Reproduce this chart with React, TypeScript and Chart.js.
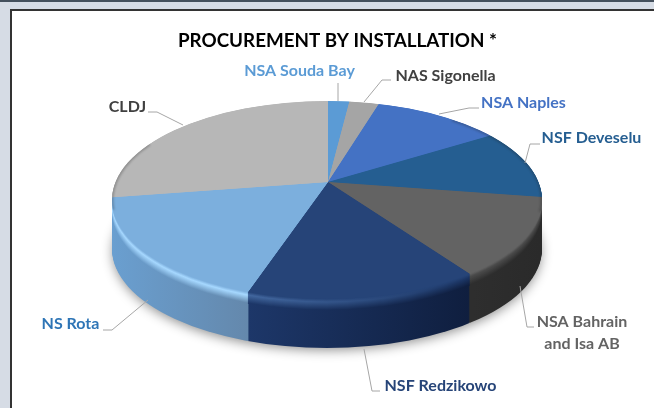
import { useEffect, useRef } from "react";
import { Chart, registerables } from "chart.js";

Chart.register(...registerables);

const categories = ["NSA Souda Bay", "NAS Sigonella", "NSA Naples", "NSF Deveselu", "NSA Bahrain and Isa AB", "NSF Redzikowo", "NS Rota", "CLDJ"];
const shares = [2.1, 2.9, 11.7, 10.5, 12.3, 16.0, 17.2, 27.2];
const topColors = ["#5B9BD5", "#A5A5A5", "#4472C4", "#255E91", "#636363", "#264478", "#7CAFDD", "#B7B7B7"];
const sideLeft = ["#4A7FAF", "#7E7E7E", "#34589A", "#1B4469", "#2E2E2E", "#1D3769", "#6A9FD0", "#8A8A8A"];
const sideRight = ["#4A7FAF", "#7E7E7E", "#34589A", "#1B4469", "#2A2A2A", "#0F1E3E", "#6488AC", "#8A8A8A"];
const bevelLeft = ["#7FBDF2", "#C0C0C0", "#5F8FE0", "#2F74AE", "#4A4A4A", "#42679F", "#A6D8FF", "#D0D0D0"];
const bevelRight = ["#7FBDF2", "#C0C0C0", "#5F8FE0", "#2F74AE", "#4A4A4A", "#1B3564", "#A6D8FF", "#D0D0D0"];
const sideSpanX: number[][] = [[328, 349], [349, 379], [379, 485], [485, 540], [473, 540], [248, 473], [112, 248], [112, 328]];
const titleText = "PROCUREMENT BY INSTALLATION *";

const labelLines = [
  ["NSA Souda Bay"],
  ["NAS Sigonella"],
  ["NSA Naples"],
  ["NSF Deveselu"],
  ["NSA Bahrain", "and Isa AB"],
  ["NSF Redzikowo"],
  ["NS Rota"],
  ["CLDJ"],
];
const labelColors = ["#5B9BD5", "#404040", "#4472C4", "#255E91", "#636363", "#264478", "#2E75B6", "#404040"];
const labelAnchors: number[][] = [[299.5, 71], [445.5, 76], [523.5, 103], [591.5, 138], [582, 322], [440.5, 386], [70.5, 324], [127.5, 107]];
const leaders: number[][][] = [
  [[338, 83], [338, 101]],
  [[391, 80], [382, 80], [364, 102]],
  [[479, 108], [469, 108], [439, 114]],
  [[540, 144], [530, 144], [525, 163]],
  [[534, 327], [527, 327], [520, 286]],
  [[380, 391], [372, 391], [364, 349]],
  [[103, 330], [112, 330], [148, 300]],
  [[148, 112], [157, 112], [183, 125]],
];

const APEX = { x: 328, y: 182 };
const RIM = { x: 327, y: 200, rx: 215, ry: 99 };
const DEPTH = 49;
const SQUASH = 0.5;
const REACH = 300;

function hex(c: string) {
  return [1, 3, 5].map((i) => parseInt(c.slice(i, i + 2), 16));
}
function mix(a: string, b: string, t: number) {
  const p = hex(a), q = hex(b);
  return "#" + p.map((v, i) => Math.round(v + (q[i] - v) * t).toString(16).padStart(2, "0")).join("");
}
function layerColor(i: number, dy: number, side: string, bevel: string) {
  if (dy < 3) return mix(topColors[i], bevel, dy / 3);
  if (dy < 11) return mix(bevel, side, (dy - 3) / 8);
  return side;
}

function drawLayer(chart: any, dy: number) {
  const ctx = chart.ctx;
  const arcs = chart.getDatasetMeta(0).data;
  ctx.save();
  ctx.beginPath();
  ctx.ellipse(RIM.x, RIM.y + dy, RIM.rx, RIM.ry, 0, 0, Math.PI * 2);
  ctx.clip();
  arcs.forEach((arc: any, i: number) => {
    const sx = REACH / arc.outerRadius;
    ctx.save();
    ctx.translate(APEX.x, APEX.y + dy);
    ctx.scale(sx, sx * SQUASH);
    ctx.translate(-arc.x, -arc.y);
    let fill: any = topColors[i];
    if (dy > 0) {
      const x0 = arc.x + (sideSpanX[i][0] - APEX.x) / sx;
      const x1 = arc.x + (sideSpanX[i][1] - APEX.x) / sx;
      fill = ctx.createLinearGradient(x0, 0, x1, 0);
      fill.addColorStop(0, layerColor(i, dy, sideLeft[i], bevelLeft[i]));
      fill.addColorStop(1, layerColor(i, dy, sideRight[i], bevelRight[i]));
    }
    const keep = arc.options;
    arc.options = Object.create(keep, { backgroundColor: { value: fill } });
    arc.draw(ctx);
    arc.options = keep;
    ctx.restore();
  });
  ctx.restore();
}

function edgeShade(ctx: any, from: number, to: number) {
  ctx.save();
  ctx.beginPath();
  ctx.ellipse(RIM.x, RIM.y, RIM.rx, RIM.ry, 0, 0, Math.PI * 2);
  ctx.clip();
  ctx.strokeStyle = "rgba(30,30,30,0.28)";
  ctx.lineWidth = 3;
  ctx.filter = "blur(1px)";
  ctx.beginPath();
  ctx.ellipse(RIM.x, RIM.y, RIM.rx, RIM.ry, 0, from, to);
  ctx.stroke();
  ctx.restore();
}

const pie3d = {
  id: "pie3d",
  beforeDatasetsDraw(chart: any) {
    const ctx = chart.ctx;
    ctx.save();
    ctx.shadowColor = "rgba(0,0,0,0.45)";
    ctx.shadowBlur = 12;
    ctx.shadowOffsetY = 3;
    ctx.fillStyle = "#666";
    ctx.beginPath();
    ctx.ellipse(RIM.x, RIM.y + DEPTH, RIM.rx - 1, RIM.ry - 1, 0, 0, Math.PI * 2);
    ctx.fill();
    ctx.restore();
    for (let dy = DEPTH; dy > 12; dy -= 1) drawLayer(chart, dy);
    for (let dy = 12; dy > 0; dy -= 0.25) drawLayer(chart, dy);
    drawLayer(chart, 0);
    edgeShade(ctx, -0.95, 0.12);
    edgeShade(ctx, Math.PI - 0.1, Math.PI + 0.6);
    return false;
  },
  afterDraw(chart: any) {
    const ctx = chart.ctx;
    ctx.save();
    ctx.strokeStyle = "#A6A6A6";
    ctx.lineWidth = 1;
    leaders.forEach((pts) => {
      ctx.beginPath();
      pts.forEach((p, k) => (k ? ctx.lineTo(p[0], p[1]) : ctx.moveTo(p[0], p[1])));
      ctx.stroke();
    });
    ctx.font = "bold 16px Lato";
    ctx.textAlign = "center";
    ctx.textBaseline = "middle";
    labelLines.forEach((lines, i) => {
      ctx.fillStyle = labelColors[i];
      lines.forEach((t, k) => ctx.fillText(t, labelAnchors[i][0], labelAnchors[i][1] + k * 22));
    });
    ctx.restore();
  },
};

export default function App() {
  const ref = useRef<HTMLCanvasElement>(null);
  useEffect(() => {
    const chart = new Chart(ref.current!, {
      type: "pie",
      data: {
        labels: categories,
        datasets: [{ data: shares, backgroundColor: topColors, borderWidth: 0 }],
      },
      options: {
        responsive: false,
        animation: false,
        layout: { padding: { left: 21, top: 30, right: 0, bottom: 0 } },
        plugins: {
          legend: { display: false },
          tooltip: { enabled: false },
          title: {
            display: true,
            text: titleText,
            color: "#000000",
            font: { family: "Lato", size: 18.8, weight: "bold" },
            padding: 0,
          },
        },
      },
      plugins: [pie3d],
    } as any);
    return () => chart.destroy();
  }, []);
  return (
    <div style={{ position: "fixed", left: 0, top: 0, width: 654, height: 408, overflow: "hidden", background: "#D6DCE5" }}>
      <div style={{ position: "absolute", left: 0, top: 0, width: 654, height: 2, background: "#44505C" }} />
      <div style={{ position: "absolute", left: 10, top: 9, width: 644, height: 399, boxSizing: "border-box", background: "#FFFFFF", borderLeft: "2px solid #333333", borderTop: "2px solid #333333" }} />
      <canvas ref={ref} width={654} height={408} style={{ position: "absolute", left: 0, top: 0, display: "block" }} />
    </div>
  );
}
